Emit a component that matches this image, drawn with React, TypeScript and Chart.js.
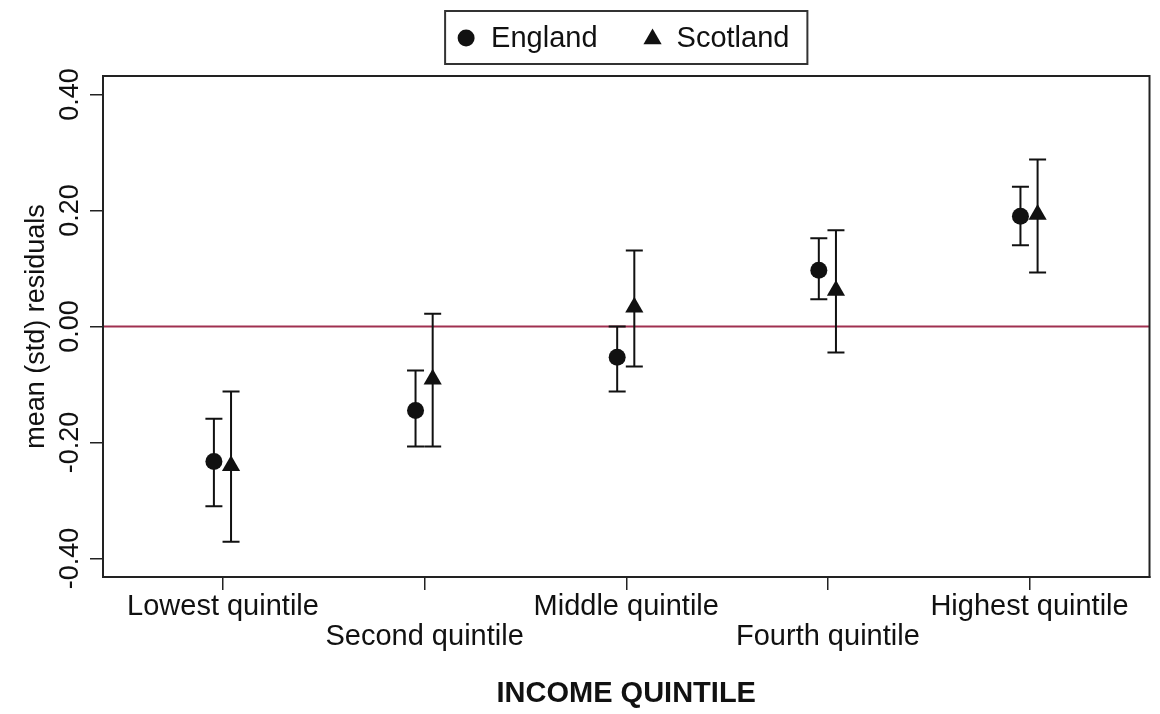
import React, { useEffect, useRef } from 'react';
import { Chart, registerables } from 'chart.js';

Chart.register(...registerables);

// ---- data ----
const categories = ['Lowest quintile', 'Second quintile', 'Middle quintile', 'Fourth quintile', 'Highest quintile'];
const xTickValues = [1, 2, 3, 4, 5];
const yTickValues = [-0.4, -0.2, 0, 0.2, 0.4];

const englandMean = [-0.233, -0.145, -0.053, 0.097, 0.19];
const englandLow = [-0.31, -0.207, -0.112, 0.047, 0.14];
const englandHigh = [-0.159, -0.076, 0.0, 0.152, 0.241];

const scotlandMean = [-0.24, -0.091, 0.033, 0.062, 0.193];
const scotlandLow = [-0.371, -0.207, -0.069, -0.045, 0.093];
const scotlandHigh = [-0.112, 0.022, 0.131, 0.166, 0.288];

const seriesLabels = ['England', 'Scotland'];

// ---- style ----
const FONT = '"Liberation Sans", Arial, Helvetica, sans-serif';
const INK = '#111111';
const ZERO_LINE = '#a03050';
const DODGE = [-0.045, 0.04];

export default function App() {
  const ref = useRef<HTMLCanvasElement>(null);

  useEffect(() => {
    const canvas = ref.current;
    if (!canvas) return;

    const series = [
      { label: seriesLabels[0], mean: englandMean, low: englandLow, high: englandHigh, style: 'circle', radius: 8.5, dodge: DODGE[0] },
      { label: seriesLabels[1], mean: scotlandMean, low: scotlandLow, high: scotlandHigh, style: 'triangle', radius: 10.5, dodge: DODGE[1] },
    ];

    const drawMarker = (ctx: CanvasRenderingContext2D, style: string, r: number, cx: number, cy: number) => {
      ctx.beginPath();
      if (style === 'circle') {
        ctx.arc(cx, cy, r, 0, Math.PI * 2);
      } else {
        let rad = 0;
        ctx.moveTo(cx + Math.sin(rad) * r, cy - Math.cos(rad) * r);
        rad += (2 * Math.PI) / 3;
        ctx.lineTo(cx + Math.sin(rad) * r, cy - Math.cos(rad) * r);
        rad += (2 * Math.PI) / 3;
        ctx.lineTo(cx + Math.sin(rad) * r, cy - Math.cos(rad) * r);
        ctx.closePath();
      }
      ctx.fill();
    };

    const decorations = {
      id: 'decorations',
      beforeDatasetsDraw(chart: any) {
        const { ctx, chartArea, scales } = chart;
        const x = scales.x;
        const y = scales.y;
        ctx.save();
        // zero reference line
        const y0 = y.getPixelForValue(0);
        ctx.strokeStyle = ZERO_LINE;
        ctx.lineWidth = 2;
        ctx.beginPath();
        ctx.moveTo(chartArea.left, y0);
        ctx.lineTo(chartArea.right, y0);
        ctx.stroke();
        // error bars
        ctx.strokeStyle = INK;
        ctx.lineWidth = 2;
        const cap = 8.5;
        series.forEach((s) => {
          s.mean.forEach((_, i) => {
            const px = x.getPixelForValue(xTickValues[i] + s.dodge);
            const pl = y.getPixelForValue(s.low[i]);
            const ph = y.getPixelForValue(s.high[i]);
            ctx.beginPath();
            ctx.moveTo(px, pl);
            ctx.lineTo(px, ph);
            ctx.moveTo(px - cap, pl);
            ctx.lineTo(px + cap, pl);
            ctx.moveTo(px - cap, ph);
            ctx.lineTo(px + cap, ph);
            ctx.stroke();
          });
        });
        ctx.restore();
      },
      afterDraw(chart: any) {
        const { ctx, chartArea, scales } = chart;
        const y = scales.y;
        ctx.save();
        // plot box
        ctx.strokeStyle = '#222222';
        ctx.lineWidth = 2;
        ctx.strokeRect(chartArea.left, chartArea.top, chartArea.right - chartArea.left, chartArea.bottom - chartArea.top);

        // rotated y tick labels
        ctx.fillStyle = INK;
        ctx.font = `27px ${FONT}`;
        ctx.textAlign = 'center';
        ctx.textBaseline = 'alphabetic';
        yTickValues.forEach((v) => {
          const py = y.getPixelForValue(v);
          ctx.save();
          ctx.translate(78, py);
          ctx.rotate(-Math.PI / 2);
          ctx.fillText(v.toFixed(2), 0, 0);
          ctx.restore();
        });

        // legend
        ctx.font = `29px ${FONT}`;
        const wE = ctx.measureText(series[0].label).width;
        const wS = ctx.measureText(series[1].label).width;
        const total = 21 + 25 + wE + 55 + 24 + wS + 18;
        const cxPlot = (chartArea.left + chartArea.right) / 2;
        const bx = cxPlot - total / 2;
        const by = 11;
        const bh = 53;
        const cy = by + bh / 2 + 0.5;
        ctx.strokeStyle = '#333333';
        ctx.lineWidth = 2;
        ctx.strokeRect(bx, by, total, bh);
        ctx.fillStyle = INK;
        ctx.textAlign = 'left';
        ctx.textBaseline = 'middle';
        const m1 = bx + 21;
        drawMarker(ctx, series[0].style, 8.5, m1, cy);
        ctx.fillText(series[0].label, m1 + 25, cy + 1);
        const m2 = m1 + 25 + wE + 55;
        drawMarker(ctx, series[1].style, 10.5, m2, cy + 1);
        ctx.fillText(series[1].label, m2 + 24, cy + 1);
        ctx.restore();
      },
    };

    const chart = new Chart(canvas, {
      type: 'scatter',
      data: {
        datasets: series.map((s) => ({
          label: s.label,
          data: s.mean.map((v, i) => ({ x: xTickValues[i] + s.dodge, y: v })),
          pointStyle: s.style as any,
          pointRadius: s.radius,
          pointHoverRadius: s.radius,
          pointBackgroundColor: INK,
          pointBorderColor: INK,
          pointBorderWidth: 0,
          showLine: false,
        })),
      },
      options: {
        responsive: false,
        maintainAspectRatio: false,
        devicePixelRatio: 1,
        animation: false,
        layout: { padding: { left: 0, right: 8, top: 76, bottom: 0 } },
        plugins: {
          legend: { display: false },
          tooltip: { enabled: false },
        },
        scales: {
          x: {
            type: 'linear',
            min: 0.405,
            max: 5.595,
            afterBuildTicks: (s: any) => {
              s.ticks = xTickValues.map((v) => ({ value: v }));
            },
            afterFit: (s: any) => {
              s.height = 137;
            },
            grid: {
              display: true,
              drawOnChartArea: false,
              drawTicks: true,
              tickLength: 13,
              color: '#222222',
              lineWidth: 1.5,
            },
            border: { display: true, color: '#222222', width: 2 },
            ticks: {
              autoSkip: false,
              maxRotation: 0,
              minRotation: 0,
              padding: 2,
              color: INK,
              font: { family: FONT, size: 29, lineHeight: 1.03 },
              callback: (v: any) => {
                const i = xTickValues.indexOf(Number(v));
                if (i < 0) return '';
                return i % 2 === 1 ? ['', categories[i]] : categories[i];
              },
            },
            title: {
              display: true,
              text: 'INCOME QUINTILE',
              color: INK,
              font: { family: FONT, size: 29, weight: 'bold' },
              padding: { top: 4, bottom: 3 },
            },
          },
          y: {
            type: 'linear',
            min: -0.432,
            max: 0.432,
            afterBuildTicks: (s: any) => {
              s.ticks = yTickValues.map((v) => ({ value: v }));
            },
            afterFit: (s: any) => {
              s.width = 103;
            },
            grid: {
              display: true,
              drawOnChartArea: false,
              drawTicks: true,
              tickLength: 13,
              color: '#222222',
              lineWidth: 1.5,
            },
            border: { display: true, color: '#222222', width: 2 },
            ticks: { display: false },
            title: {
              display: true,
              text: 'mean (std) residuals',
              color: INK,
              font: { family: FONT, size: 27 },
              padding: { top: 20, bottom: 0 },
            },
          },
        },
      },
      plugins: [decorations],
    } as any);

    return () => {
      chart.destroy();
    };
  }, []);

  return (
    <div style={{ position: 'fixed', left: 0, top: 0, width: 1160, height: 714, background: '#ffffff' }}>
      <canvas ref={ref} width={1160} height={714} style={{ display: 'block' }} />
    </div>
  );
}
